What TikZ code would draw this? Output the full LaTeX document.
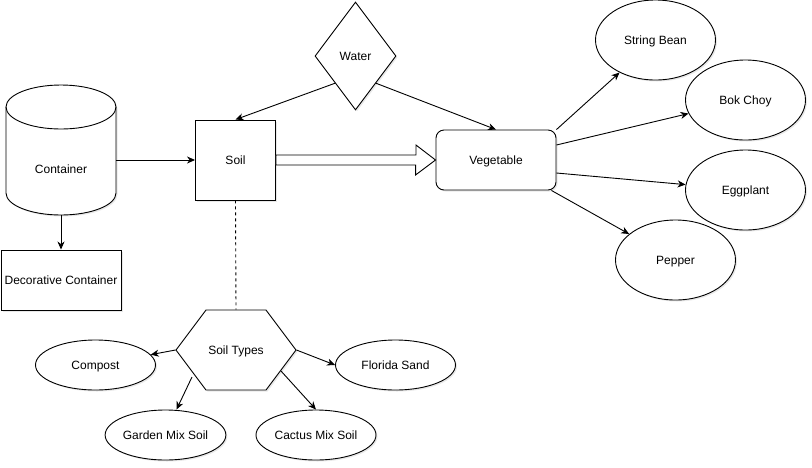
\documentclass[tikz,border=0pt]{standalone}
\usepackage{fontspec}
\setmainfont{Liberation Sans}
\usetikzlibrary{shapes.geometric,arrows.meta,shadows}

\begin{document}
\begin{tikzpicture}[x=1pt, y=-1pt, line width=0.9pt, font=\fontsize{12}{14}\selectfont,
		every node/.append style={text height=10.2pt, text depth=1pt},
		shade box/.style={draw, fill=white, drop shadow={shadow xshift=1.5pt, shadow yshift=-1.5pt, opacity=0.18}},
		box/.style={shade box, rectangle, inner sep=0pt},
		oval/.style={shade box, ellipse, inner sep=0pt, minimum width=120pt, minimum height=80pt},
		small oval/.style={oval, minimum height=50pt},
		link/.style={-{Stealth[length=8pt, width=7pt, inset=2.5pt]}}]
		\useasboundingbox (0,0) rectangle (812,467);
		\filldraw[shade box] (6,107) -- (6,193) arc[start angle=180, end angle=360, x radius=55pt, y radius=22pt] -- (116,107) arc[start angle=0, end angle=180, x radius=55pt, y radius=22pt] -- cycle;
		\draw (6,107) arc[start angle=180, end angle=360, x radius=55pt, y radius=22pt];
		\node[minimum width=110pt, minimum height=130pt, inner sep=0pt, label={[yshift=-19pt]center:Container}] (cont) at (61,150) {};
		\node[box, minimum width=120pt, minimum height=60pt] (deco) at (61,280) {Decorative Container};
		\node[box, minimum size=80pt] (soil) at (235.5,160) {Soil};
		\node[shade box, diamond, inner sep=0pt, minimum width=81pt, minimum height=108pt] (water) at (355.5,56) {Water};
		\node[box, rounded corners=8pt, minimum width=120pt, minimum height=60pt] (veg) at (496,160) {Vegetable};
		\node[oval] (bean) at (655.5,40) {String Bean};
		\node[oval] (bok) at (745.5,100) {Bok Choy};
		\node[oval] (egg) at (745.5,190) {Eggplant};
		\node[oval] (pepper) at (675.5,260) {Pepper};
		\filldraw[shade box] (176,350) -- (206,310) -- (266,310) -- (296,350) -- (266,390) -- (206,390) -- cycle;
		\node[minimum width=120pt, minimum height=80pt, inner sep=0pt] (types) at (236,350) {Soil Types};
		\node[small oval] (compost) at (95.5,365) {Compost};
		\node[small oval] (sand) at (395.5,365) {Florida Sand};
		\node[small oval] (garden) at (165.5,435) {Garden Mix Soil};
		\node[small oval] (cactus) at (316,435) {Cactus Mix Soil};
		\coordinate (types-gl) at (192,377);
		\coordinate (types-gr) at (281,371);
		\draw[link] ([yshift=-10pt]cont.east) -- (soil.west);
		\draw[link] (cont.south) -- (deco.north);
		\draw[link] (water.south west) -- (soil.north);
		\draw[link] (water.south east) -- (veg.north);
		\filldraw[fill=white] ([yshift=5pt]soil.east) -- ++(140,0) -- ++(0,-10) -- (veg.west) -- ++(-20,15) -- ++(0,-10) -- ([yshift=-5pt]soil.east) -- cycle;
		\draw[link] (veg.north east) -- (bean);
		\draw[link] ([yshift=15pt]veg.east) -- (bok);
		\draw[link] ([yshift=-13pt]veg.east) -- (egg);
		\draw[link] ([xshift=-5pt]veg.south east) -- (pepper);
		\draw[dash pattern=on 3pt off 3pt] (soil.south) -- (types.north);
		\draw[link] (types.west) -- (compost);
		\draw[link] (types.east) -- (sand.west);
		\draw[link] (types-gl) -- ([xshift=11pt]garden.north);
		\draw[link] (types-gr) -- (cactus.north);
	\end{tikzpicture}
\end{document}
